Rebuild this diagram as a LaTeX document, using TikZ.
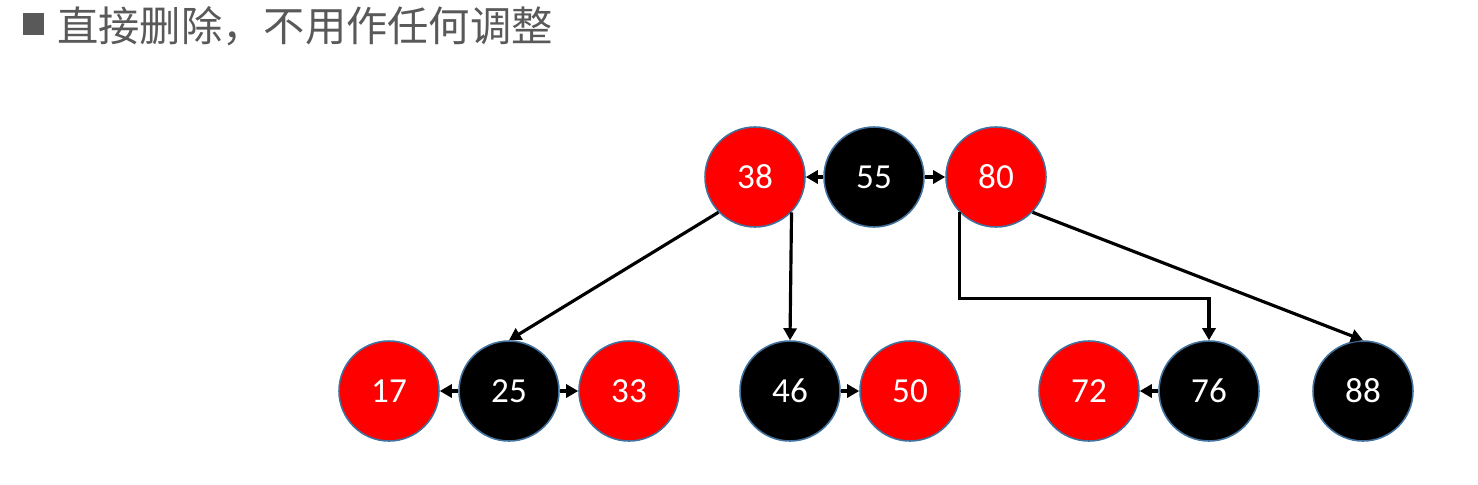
\documentclass[tikz,border=0pt]{standalone}
\usepackage{fontspec}
\setmainfont{Carlito}
\newfontfamily\cjk{Noto Sans CJK SC}
\usetikzlibrary{arrows.meta}
\definecolor{nodeBorder}{HTML}{41719C}
\definecolor{titleGray}{HTML}{595959}

\begin{document}
\begin{tikzpicture}
                [x=0.02cm, y=-0.02cm, >={Triangle[length=0.24cm, width=0.26cm]},
        redNode/.style={circle, draw=nodeBorder, fill=red, minimum size=2cm, inner sep=0pt, line width=0.9pt, text=white, font=\fontsize{20}{20}\selectfont},
        blackNode/.style={circle, draw=nodeBorder, fill=black, minimum size=2cm, inner sep=0pt, line width=0.9pt, text=white, font=\fontsize{20}{20}\selectfont},
        link/.style={line width=1.8pt, ->}]
                \useasboundingbox (0,0) rectangle (1478,484);

                % title line
                \node[fill=titleGray, minimum size=0.44cm, inner sep=0pt] (bullet) at (33.5,23.5) {};
                \node[anchor=west, inner sep=0pt, text=titleGray, font=\cjk\fontsize{23.5}{23.5}\selectfont] (title) at (57,26) {直接删除，不用作任何调整};

                % top node
                \node[redNode] (n38) at (755,177) {38};
                \node[blackNode] (n55) at (874,177) {55};
                \node[redNode] (n80) at (996,177) {80};

                % children
                \node[redNode] (n17) at (389,391) {17};
                \node[blackNode] (n25) at (509,391) {25};
                \node[redNode] (n33) at (629,391) {33};
                \node[blackNode] (n46) at (790,391) {46};
                \node[redNode] (n50) at (910,391) {50};
                \node[redNode] (n72) at (1089,391) {72};
                \node[blackNode] (n76) at (1209,391) {76};
                \node[blackNode] (n88) at (1363,391) {88};

                % links inside nodes
                \draw[link] (n55) -- (n38);
                \draw[link] (n55) -- (n80);
                \draw[link] (n25) -- (n17);
                \draw[link] (n25) -- (n33);
                \draw[link] (n46) -- (n50);
                \draw[link] (n76) -- (n72);

                % child pointers
                \draw[link] (n38.-136) -- (n25.north);
                \draw[link] (n38.-44) -- (n46.north);
                \draw[link] (n80.-136) -- ++(0,86) -| (n76.north);
                \draw[link] (n80.-44) -- (n88.north);
            \end{tikzpicture}
\end{document}
